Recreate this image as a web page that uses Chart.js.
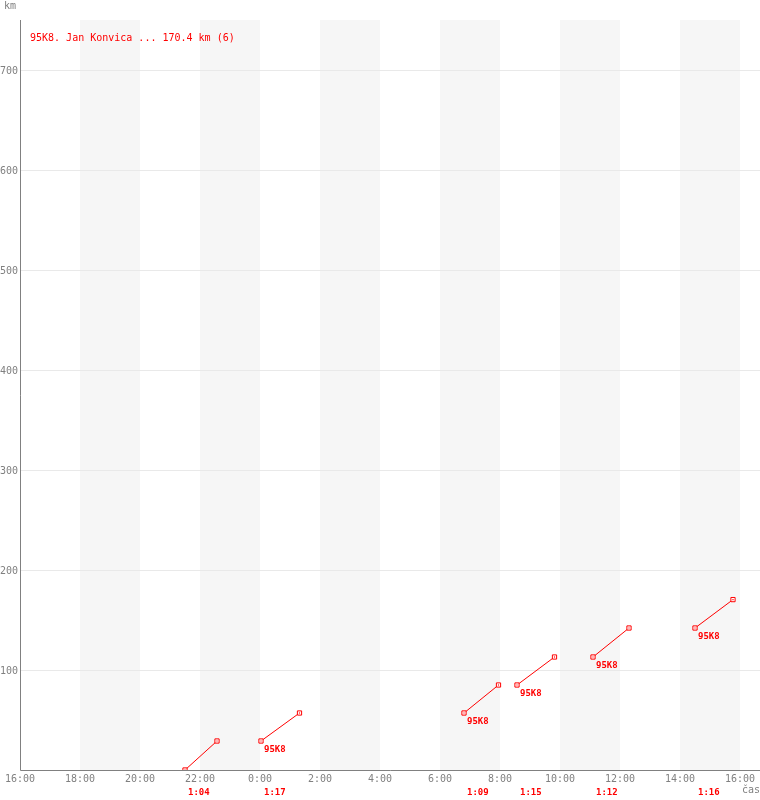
<!DOCTYPE html>
<html>
<head>
<meta charset="utf-8">
<script src="https://cdn.jsdelivr.net/npm/chart.js@4/dist/chart.umd.min.js"></script>
<style>
  html, body { margin:0; padding:0; background:#fff; overflow:hidden; }
  canvas { display:block; }
</style>
</head>
<body>
<canvas id="chart" width="760" height="800"></canvas>
<script>
// ==== Data ====
const title = "95K8. Jan Konvica ... 170.4 km (6)";
const rider = "95K8";
const startTimes = ["21:30", "0:02", "6:48", "8:34", "11:06", "14:30"];
const durations = ["1:04", "1:17", "1:09", "1:15", "1:12", "1:16"];
const kmMarks = [0, 29, 57, 85, 113, 142, 170.4];
const xTicks = ["16:00","18:00","20:00","22:00","0:00","2:00","4:00","6:00","8:00","10:00","12:00","14:00","16:00"];
const yTicks = [100, 200, 300, 400, 500, 600, 700];
const bands = [["18:00","20:00"],["22:00","0:00"],["2:00","4:00"],["6:00","8:00"],["10:00","12:00"],["14:00","16:00"]];

// ==== Helpers ====
const MONO = "'DejaVu Sans Mono', monospace";
const RED = "#ff0000";

// hours since 16:00
function toH(t) {
  const [h, m] = t.split(":").map(Number);
  return (h + m / 60 - 16 + 24) % 24;
}
function durH(t) {
  const [h, m] = t.split(":").map(Number);
  return h + m / 60;
}
function bandEnd(t) { const v = toH(t); return v === 0 ? 24 : v; }

// ==== Datasets ====
const datasets = [];
startTimes.forEach((s, i) => {
  const x0 = toH(s), x1 = x0 + durH(durations[i]);
  const pts = [{ x: x0, y: kmMarks[i] }, { x: x1, y: kmMarks[i + 1] }];
  datasets.push({
    data: pts, borderColor: RED, borderWidth: 1, backgroundColor: "#fff",
    pointStyle: "rect", pointRadius: 3, pointBorderWidth: 1, pointBorderColor: RED,
    pointBackgroundColor: "#fff", tension: 0, order: 2
  });
  datasets.push({
    data: pts, showLine: false, pointStyle: "rect", pointRadius: 0.8,
    pointBorderWidth: 0, pointBackgroundColor: RED, order: 1
  });
});

// ==== Custom drawing: bands, grid, axes, labels ====
const decor = {
  id: "decor",
  beforeDatasetsDraw(chart) {
    const { ctx, chartArea: a, scales: { x, y } } = chart;
    ctx.save();
    ctx.fillStyle = "#f6f6f6";
    bands.forEach(([s, e]) => {
      const l = x.getPixelForValue(toH(s)), r = x.getPixelForValue(bandEnd(e));
      ctx.fillRect(l, a.top, r - l, a.bottom - a.top);
    });
    ctx.strokeStyle = "#e9e9e9";
    ctx.lineWidth = 1;
    yTicks.forEach(v => {
      const py = Math.round(y.getPixelForValue(v)) + 0.5;
      ctx.beginPath(); ctx.moveTo(a.left, py); ctx.lineTo(a.right, py); ctx.stroke();
    });
    // axes
    ctx.strokeStyle = "#808080";
    ctx.beginPath();
    ctx.moveTo(a.left + 0.5, a.top); ctx.lineTo(a.left + 0.5, a.bottom + 0.5);
    ctx.lineTo(a.right, a.bottom + 0.5);
    ctx.stroke();
    // tick labels
    ctx.fillStyle = "#808080";
    ctx.font = "10px " + MONO;
    ctx.textAlign = "right"; ctx.textBaseline = "middle";
    yTicks.forEach(v => ctx.fillText(String(v), a.left - 2, y.getPixelForValue(v) + 1));
    ctx.textAlign = "center";
    xTicks.forEach((t, i) => ctx.fillText(t, x.getPixelForValue(i * 2), a.bottom + 9));
    ctx.textAlign = "left";
    ctx.fillText("km", 4, 6);
    ctx.fillText("čas", 742, 790);
    ctx.restore();
  },
  afterDatasetsDraw(chart) {
    const { ctx, chartArea: a } = chart;
    ctx.save();
    ctx.fillStyle = RED;
    ctx.font = "10px " + MONO;
    ctx.textAlign = "left"; ctx.textBaseline = "middle";
    ctx.fillText(title, 30, 38);
    ctx.font = "bold 9px " + MONO;
    startTimes.forEach((s, i) => {
      const p = chart.getDatasetMeta(i * 2).data[0];
      if (i > 0) ctx.fillText(rider, p.x + 3, p.y + 9);
      ctx.fillText(durations[i], p.x + 3, a.bottom + 23);
    });
    ctx.restore();
  }
};

new Chart(document.getElementById("chart"), {
  type: "line",
  data: { datasets },
  options: {
    responsive: false,
    animation: false,
    layout: { autoPadding: false, padding: { left: 20, top: 20, right: 0, bottom: 30 } },
    plugins: { legend: { display: false }, tooltip: { enabled: false } },
    scales: {
      x: { type: "linear", min: 0, max: 24 + 2 / 3, display: false },
      y: { min: 0, max: 750, display: false }
    }
  },
  plugins: [decor]
});
</script>
</body>
</html>
